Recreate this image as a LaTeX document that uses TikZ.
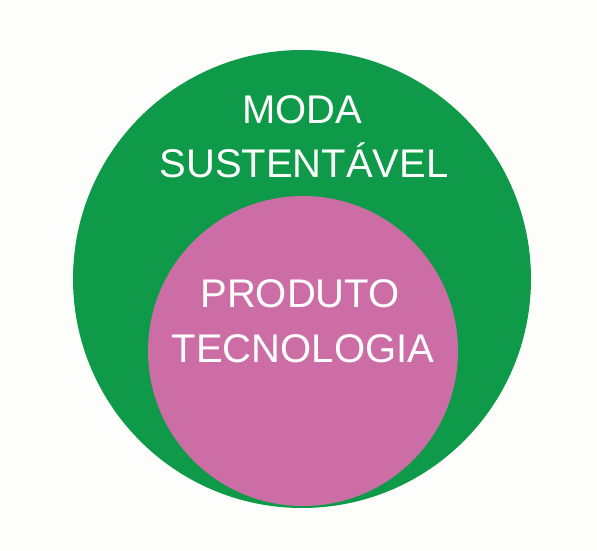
\documentclass[tikz,border=0pt]{standalone}
\usepackage{fontspec}
\setmainfont{Liberation Sans}
\definecolor{modagreen}{HTML}{0E9A48}
\definecolor{prodpink}{HTML}{CC6EA5}
\definecolor{bgcol}{HTML}{FDFDFB}
\begin{document}
\begin{tikzpicture}[x=1pt,y=-1pt,
  label text/.style={text=white,font=\fontsize{40}{54}\selectfont,anchor=base,inner sep=0pt}]
\useasboundingbox (0,0) rectangle (597,551);
\fill[bgcol] (0,0) rectangle (597,551);
\fill[modagreen] (302,279) circle[radius=229] coordinate (outer);
\fill[prodpink] (303,351) circle[radius=155] coordinate (inner);
\node[label text] (moda) at (302,123) {MODA};
\node[label text] (sust) at (304,177) {SUSTENTÁVEL};
\node[label text] (prod) at (300,307) {PRODUTO};
\node[label text] (tecn) at (303,362) {TECNOLOGIA};
\end{tikzpicture}
\end{document}
